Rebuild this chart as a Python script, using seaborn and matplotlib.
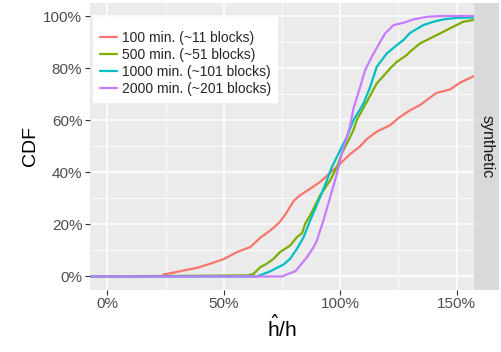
import pandas as pd
import matplotlib
matplotlib.use("Agg")
import matplotlib.pyplot as plt
import matplotlib.ticker as mticker
import seaborn as sns

# values (ratio h_hat/h, CDF)
series_names = ["100 min. (~11 blocks)", "500 min. (~51 blocks)",
                "1000 min. (~101 blocks)", "2000 min. (~201 blocks)"]

x_100 = [-0.1, 0.235, 0.242, 0.285, 0.328, 0.385, 0.442, 0.50, 0.557, 0.614, 0.657,
         0.685, 0.714, 0.742, 0.771, 0.80, 0.828, 0.871, 0.914, 0.957, 1.0, 1.043,
         1.086, 1.114, 1.157, 1.215, 1.25, 1.30, 1.343, 1.40, 1.415, 1.472, 1.515, 1.60]
cdf_100 = [0.0, 0.0, 0.008, 0.015, 0.023, 0.033, 0.049, 0.067, 0.094, 0.113, 0.149,
           0.167, 0.187, 0.211, 0.247, 0.29, 0.312, 0.337, 0.363, 0.398, 0.433, 0.47,
           0.50, 0.527, 0.556, 0.581, 0.608, 0.638, 0.658, 0.696, 0.705, 0.718, 0.744, 0.78]

x_500 = [-0.1, 0.60, 0.628, 0.657, 0.685, 0.714, 0.742, 0.785, 0.814, 0.836, 0.85,
         0.871, 0.914, 0.957, 0.986, 1.007, 1.036, 1.057, 1.071, 1.114, 1.157, 1.215,
         1.243, 1.286, 1.30, 1.343, 1.386, 1.429, 1.472, 1.529, 1.572, 1.60]
cdf_500 = [0.0, 0.004, 0.01, 0.036, 0.049, 0.068, 0.094, 0.119, 0.151, 0.166, 0.203,
           0.235, 0.312, 0.369, 0.42, 0.472, 0.523, 0.562, 0.60, 0.67, 0.741, 0.799,
           0.824, 0.85, 0.863, 0.895, 0.914, 0.933, 0.953, 0.978, 0.985, 0.986]

x_1000 = [-0.1, 0.642, 0.671, 0.70, 0.728, 0.757, 0.785, 0.814, 0.843, 0.871, 0.914,
          0.943, 0.964, 0.993, 1.014, 1.029, 1.057, 1.10, 1.129, 1.157, 1.20, 1.243,
          1.272, 1.30, 1.357, 1.40, 1.443, 1.50, 1.60]
cdf_1000 = [0.0, 0.0, 0.01, 0.02, 0.033, 0.046, 0.068, 0.106, 0.151, 0.215, 0.305,
            0.369, 0.42, 0.472, 0.51, 0.536, 0.60, 0.664, 0.728, 0.805, 0.856, 0.888,
            0.908, 0.935, 0.965, 0.978, 0.987, 0.993, 0.995]

x_2000 = [-0.1, 0.75, 0.771, 0.807, 0.828, 0.857, 0.886, 0.90, 0.928, 0.957, 0.986,
          1.007, 1.029, 1.043, 1.057, 1.086, 1.107, 1.136, 1.172, 1.193, 1.229, 1.272,
          1.315, 1.372, 1.429, 1.60]
cdf_2000 = [0.0, 0.0, 0.008, 0.02, 0.042, 0.074, 0.113, 0.138, 0.215, 0.305, 0.395,
            0.472, 0.536, 0.58, 0.645, 0.728, 0.792, 0.844, 0.901, 0.933, 0.965, 0.974,
            0.987, 0.997, 1.0, 1.0]

colors = ["#F8766D", "#7CAE00", "#00BFC4", "#C77CFF"]

frames = []
for name, xs, ys in zip(series_names, [x_100, x_500, x_1000, x_2000],
                        [cdf_100, cdf_500, cdf_1000, cdf_2000]):
    frames.append(pd.DataFrame({"series": name, "ratio": xs, "cdf": ys}))
df = pd.concat(frames, ignore_index=True)

sns.set_theme(style="darkgrid", rc={"axes.facecolor": "#EBEBEB",
                                    "grid.color": "white"})
plt.rcParams["font.family"] = ["Liberation Sans", "DejaVu Sans"]

fig = plt.figure(figsize=(5.02, 3.52), dpi=100)
ax = fig.add_axes([90 / 502, 62.5 / 352, 384 / 502, 286.5 / 352])

sns.lineplot(data=df, x="ratio", y="cdf", hue="series", palette=colors,
             hue_order=series_names, estimator=None, sort=False, lw=1.6, ax=ax)

ax.set_xlim(-0.075, 1.575)
ax.set_ylim(-0.05, 1.05)
ax.set_xticks([0, 0.5, 1.0, 1.5])
ax.set_xticks([0.25, 0.75, 1.25], minor=True)
ax.set_yticks([0, 0.2, 0.4, 0.6, 0.8, 1.0])
ax.set_yticks([0.1, 0.3, 0.5, 0.7, 0.9], minor=True)
ax.xaxis.set_major_formatter(mticker.PercentFormatter(xmax=1, decimals=0))
ax.yaxis.set_major_formatter(mticker.PercentFormatter(xmax=1, decimals=0))
ax.grid(which="major", color="white", lw=1.1)
ax.grid(which="minor", color="white", lw=0.55)
for s in ax.spines.values():
    s.set_visible(False)
ax.tick_params(which="major", length=3.5, width=0.8, color="#333333",
               labelcolor="#4D4D4D", labelsize=11, pad=2, bottom=True, left=True)
ax.tick_params(which="minor", length=0)

ax.set_ylabel("CDF", fontsize=14, color="black", labelpad=3)
ax.set_xlabel(r"$\hat{\mathregular{h}}\mathregular{/h}$", fontsize=15, color="black", labelpad=2)

# blank title reproduces the extra top margin of the ggplot legend
leg = ax.legend(loc="upper left", bbox_to_anchor=(0.0086, 0.952), frameon=True,
                fancybox=False, framealpha=1, edgecolor="white", facecolor="white",
                fontsize=10, handlelength=1.25, handletextpad=0.35, labelspacing=0.22,
                borderpad=0.45, borderaxespad=0, title=" ", title_fontsize=4)
for line in leg.get_lines():
    line.set_linewidth(1.6)

strip = fig.add_axes([474.5 / 502, 62.5 / 352, 25 / 502, 286.5 / 352])
strip.set_facecolor("#D9D9D9")
strip.set_xticks([])
strip.set_yticks([])
strip.grid(False)
for s in strip.spines.values():
    s.set_visible(False)
strip.text(0.5, 0.5, "synthetic", rotation=270, ha="center", va="center",
           fontsize=11.5, color="#1A1A1A", transform=strip.transAxes)

fig.savefig("out.png", dpi=100)
